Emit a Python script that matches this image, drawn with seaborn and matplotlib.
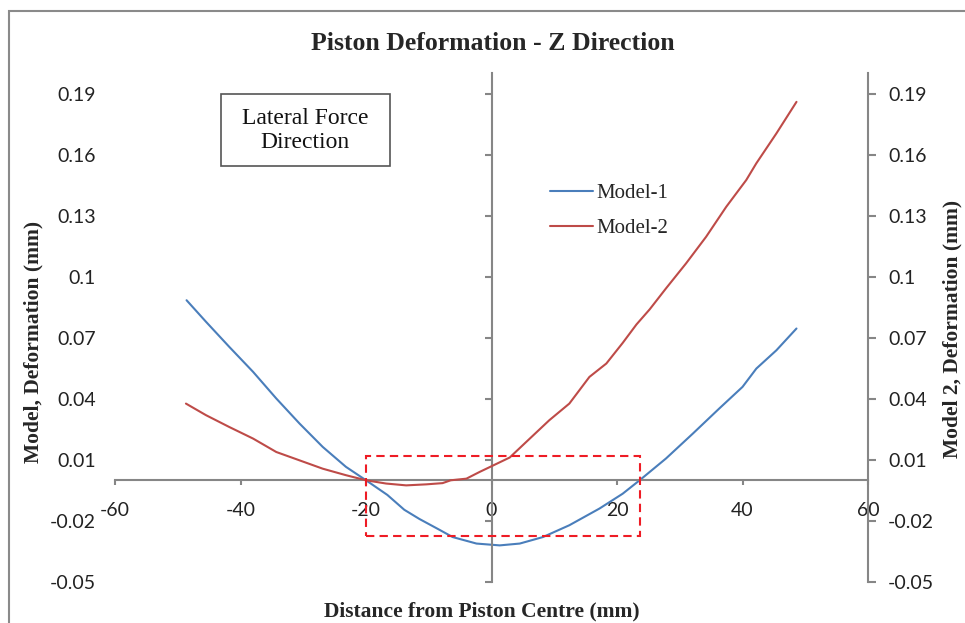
import matplotlib
matplotlib.use("Agg")
import matplotlib.pyplot as plt
import matplotlib.patches as mpatches
import seaborn as sns
import pandas as pd

# ---------------- data ----------------
model1_x = [-48.6, -45.5, -41.8, -38.0, -34.3, -30.6, -26.9, -23.2, -20.0, -16.6, -13.9,
            -11.5, -8.5, -6.2, -2.4, 1.3, 4.5, 8.2, 12.4, 17.2, 20.9, 23.6, 27.8, 32.1,
            36.3, 40.0, 42.2, 45.4, 48.6]
model1_y = [0.0885, 0.0779, 0.0656, 0.0533, 0.0402, 0.0279, 0.0164, 0.0066, 0.0, -0.0072,
            -0.0145, -0.019, -0.024, -0.0279, -0.0311, -0.032, -0.0311, -0.0279, -0.0221,
            -0.0139, -0.0066, 0.0, 0.0107, 0.023, 0.0353, 0.0459, 0.0549, 0.0639, 0.0746]

model2_x = [-48.7, -45.5, -41.8, -38.0, -34.3, -30.6, -26.9, -23.2, -20.0, -16.8, -13.6,
            -10.4, -7.8, -6.5, -4.0, -1.9, 0.2, 2.9, 6.1, 9.2, 12.4, 15.6, 18.3, 20.9,
            23.1, 25.2, 27.8, 31.0, 34.2, 37.4, 40.6, 42.2, 45.4, 48.6]
model2_y = [0.0377, 0.032, 0.0262, 0.0205, 0.0139, 0.0098, 0.0057, 0.0025, 0.0, -0.0016,
            -0.0025, -0.002, -0.0014, 0.0, 0.0008, 0.0041, 0.0072, 0.0112, 0.0205, 0.0295,
            0.0377, 0.0508, 0.0574, 0.0675, 0.0766, 0.0840, 0.0943, 0.1066, 0.1197, 0.1344,
            0.1476, 0.1558, 0.1705, 0.186]

x_ticks = [-60, -40, -20, 0, 20, 40, 60]
x_tick_labels = ["-60", "-40", "-20", "0", "20", "40", "60"]
y_ticks = [-0.05, -0.02, 0.01, 0.04, 0.07, 0.10, 0.13, 0.16, 0.19]
y_tick_labels = ["-0.05", "-0.02", "0.01", "0.04", "0.07", "0.1", "0.13", "0.16", "0.19"]
x_range = (-60, 60)
y_range = (-0.05, 0.20)
highlight_x = (-20.0, 23.7)
highlight_y = (-0.0276, 0.0118)

title = "Piston Deformation - Z Direction"
xlabel = "Distance from Piston Centre (mm)"
ylabel_left = "Model, Deformation (mm)"
ylabel_right = "Model 2, Deformation (mm)"
note_text = "Lateral Force\nDirection"
series_names = ["Model-1", "Model-2"]

# ---------------- style ----------------
sns.set_style("white")
plt.rcParams["font.family"] = ["Liberation Serif", "DejaVu Serif"]

BLUE = "#4A7EBB"
RED = "#BE4B48"
AXIS = "#868686"
TICKFONT = dict(family=["Lato", "DejaVu Sans"], size=14, color="#222222")

fig = plt.figure(figsize=(9.65, 6.23), dpi=100)
ax = fig.add_axes([0.1192, 0.0658, 0.7803, 0.8164])

df1 = pd.DataFrame({"x": model1_x, "y": model1_y, "series": series_names[0]})
df2 = pd.DataFrame({"x": model2_x, "y": model2_y, "series": series_names[1]})

sns.lineplot(data=df1, x="x", y="y", ax=ax, color=BLUE, lw=1.5, sort=False,
             estimator=None, label=series_names[0], legend=False)

ax.set_xlim(*x_range)
ax.set_ylim(*y_range)
ax.set_xlabel("")
ax.set_ylabel("")

# central axes
for s in ["top", "right"]:
    ax.spines[s].set_visible(False)
ax.spines["left"].set_position(("data", 0))
ax.spines["bottom"].set_position(("data", 0))
for s in ["left", "bottom"]:
    ax.spines[s].set_color(AXIS)
    ax.spines[s].set_linewidth(1.5)
ax.set_xticks(x_ticks)
ax.set_xticklabels(x_tick_labels, **TICKFONT)
ax.set_yticks(y_ticks)
ax.tick_params(axis="y", direction="out", length=5, width=1.5, color=AXIS, labelleft=False, left=True)
ax.tick_params(axis="x", direction="out", length=3.5, width=1.5, color=AXIS, pad=12, bottom=True)

# right (secondary) axis for Model-2
ax_r = ax.twinx()
sns.lineplot(data=df2, x="x", y="y", ax=ax_r, color=RED, lw=1.5, sort=False,
             estimator=None, label=series_names[1], legend=False)
ax_r.set_ylim(*y_range)
ax_r.set_xlim(*x_range)
ax_r.set_ylabel("")
ax_r.set_xlabel("")
for s in ["top", "left", "bottom"]:
    ax_r.spines[s].set_visible(False)
ax_r.spines["right"].set_color(AXIS)
ax_r.spines["right"].set_linewidth(1.5)
ax_r.set_yticks(y_ticks)
ax_r.set_yticklabels(y_tick_labels, **TICKFONT)
ax_r.tick_params(axis="y", direction="out", length=5.5, width=1.5, color=AXIS, pad=9, right=True)

# left labels placed at the low side
ax_l = ax.twinx()
ax_l.set_ylim(*y_range)
ax_l.yaxis.tick_left()
for s in ax_l.spines.values():
    s.set_visible(False)
ax_l.set_yticks(y_ticks)
ax_l.set_yticklabels(y_tick_labels, **TICKFONT)
ax_l.tick_params(axis="y", length=0, pad=14)

# highlight box
ax_r.add_patch(mpatches.Rectangle((highlight_x[0], highlight_y[0]),
                                  highlight_x[1] - highlight_x[0],
                                  highlight_y[1] - highlight_y[0],
                                  fill=False, edgecolor="#EE1C25", lw=1.5,
                                  linestyle=(0, (4, 2.5)), zorder=5))

# note box
ax_l.add_patch(mpatches.Rectangle((0.1408, 0.818), 0.2244, 0.1415, transform=ax_l.transAxes,
                                  fill=True, facecolor="white", edgecolor="#555555", lw=1.2,
                                  clip_on=False, zorder=6))
ax_l.text(0.2528, 0.887, note_text, transform=ax_l.transAxes, ha="center", va="center",
          fontsize=17, linespacing=1.2, color="#111111", zorder=7)

# legend
handles = ax.get_lines()[:1] + ax_r.get_lines()[:1]
leg = ax_l.legend(handles, series_names, loc="center left", bbox_to_anchor=(0.578, 0.73),
                  frameon=False, fontsize=15, handlelength=2.05, handletextpad=0.15,
                  labelspacing=0.75, borderpad=0, borderaxespad=0)

# texts
fig.text(0.511, 1 - 44 / 623, title, ha="center", va="center", fontsize=18.5, fontweight="bold")
fig.text(0.4995, 0.0177, xlabel, ha="center", va="center", fontsize=15.5, fontweight="bold")
fig.text(0.0342, 0.451, ylabel_left, ha="center", va="center", rotation=90, fontsize=15.5,
         fontweight="bold")
fig.text(0.9875, 0.472, ylabel_right, ha="center", va="center", rotation=90, fontsize=15.5,
         fontweight="bold")

# outer chart border (cropped at right and bottom)
fig.patches.append(mpatches.Rectangle((9 / 965, -0.2), 1.2, 0.2 + (1 - 11 / 623),
                                      transform=fig.transFigure, fill=False,
                                      edgecolor="#8A8A8A", lw=1.5))

fig.savefig("out.png", dpi=100)
